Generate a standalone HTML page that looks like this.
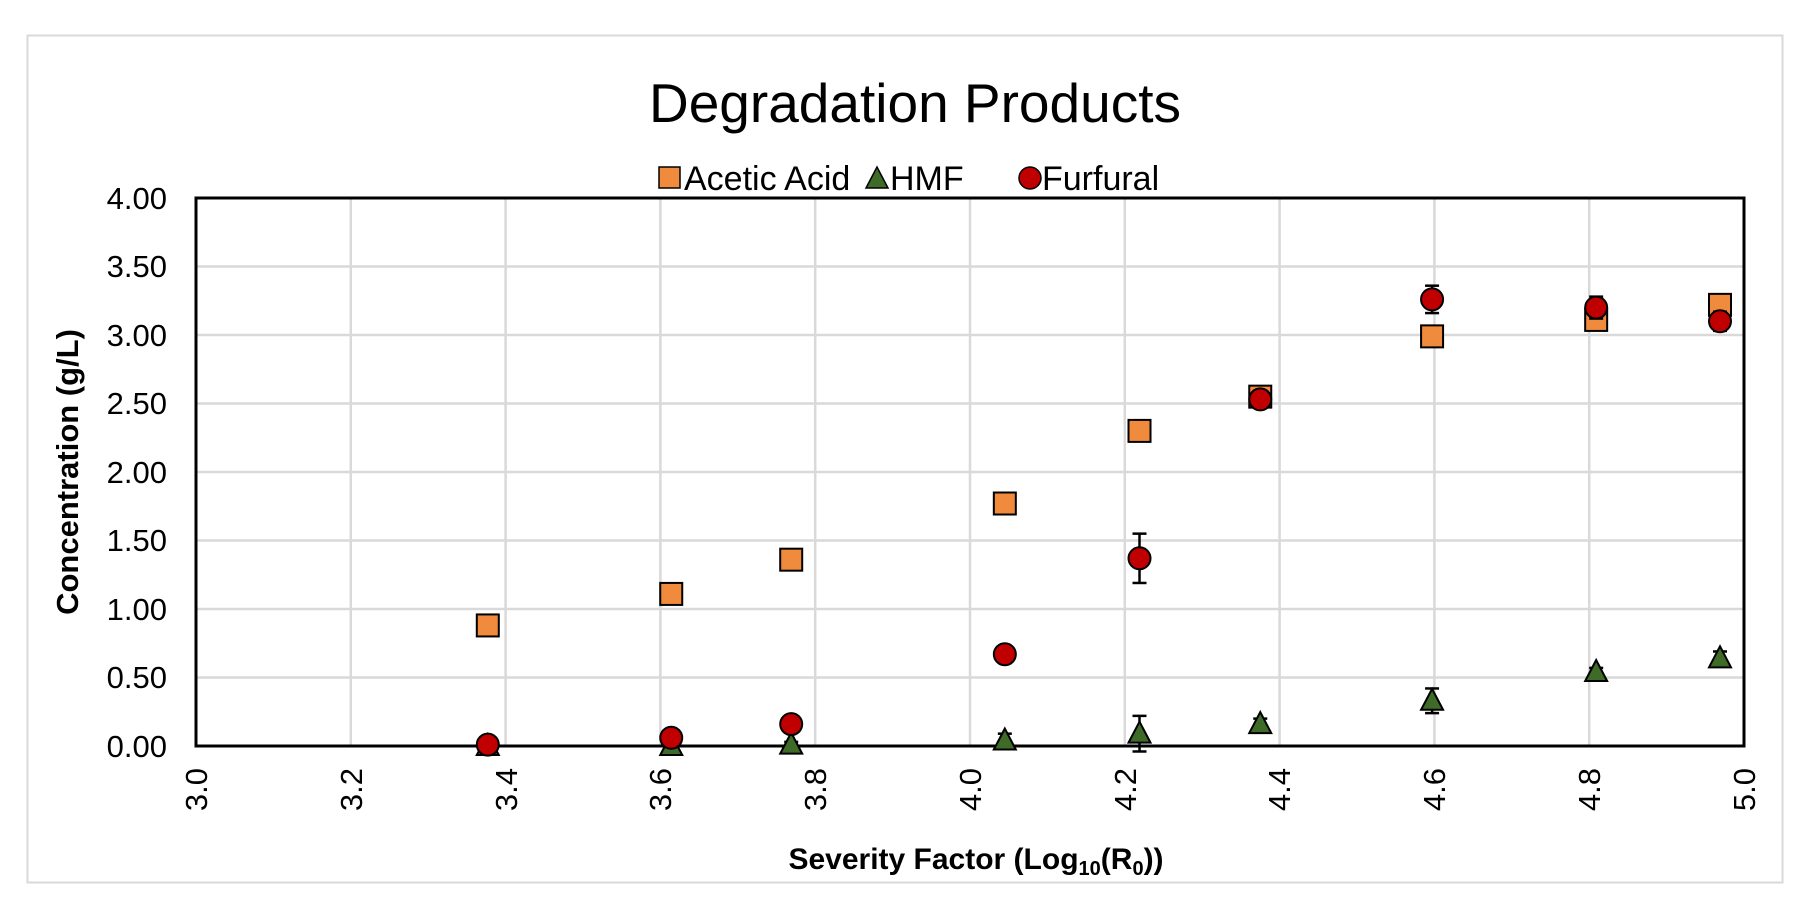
<!DOCTYPE html>
<html><head><meta charset="utf-8"><style>
html,body{margin:0;padding:0;background:#fff;}
svg{display:block;font-family:"Liberation Sans",Arial,sans-serif;}
</style></head><body>
<svg id="s" width="1805" height="902" viewBox="0 0 1805 902" xmlns="http://www.w3.org/2000/svg">
<rect x="0" y="0" width="1805" height="902" fill="#fff"/>
<rect x="27.5" y="35.5" width="1755" height="847" fill="#fff" stroke="#d9d9d9" stroke-width="2"/>
<g id="grid" stroke="#d9d9d9" stroke-width="2.5"></g>
<rect x="196" y="198" width="1548" height="548" fill="none" stroke="#000" stroke-width="3"/>
<text x="915" y="122" font-size="55" text-anchor="middle" fill="#000">Degradation Products</text>
<rect x="659" y="167" width="21" height="21" fill="#f08a3c" stroke="#000" stroke-width="1.5"/>
<text x="684" y="190" font-size="34">Acetic Acid</text>
<polygon points="877,167 866,188 888,188" fill="#3f6b28" stroke="#000" stroke-width="1.5"/>
<text x="890" y="190" font-size="34">HMF</text>
<circle cx="1030" cy="178" r="11" fill="#c00000" stroke="#000" stroke-width="1.5"/>
<text x="1042" y="190" font-size="34">Furfural</text>
<g font-size="31" text-anchor="end">
<text x="167" y="209">4.00</text><text x="167" y="277">3.50</text><text x="167" y="346">3.00</text>
<text x="167" y="414">2.50</text><text x="167" y="483">2.00</text><text x="167" y="551">1.50</text>
<text x="167" y="620">1.00</text><text x="167" y="688">0.50</text><text x="167" y="757">0.00</text>
</g>
<g font-size="31" text-anchor="end">
<text transform="translate(207,768) rotate(-90)">3.0</text>
<text transform="translate(362,768) rotate(-90)">3.2</text>
<text transform="translate(517,768) rotate(-90)">3.4</text>
<text transform="translate(671,768) rotate(-90)">3.6</text>
<text transform="translate(826,768) rotate(-90)">3.8</text>
<text transform="translate(981,768) rotate(-90)">4.0</text>
<text transform="translate(1136,768) rotate(-90)">4.2</text>
<text transform="translate(1290,768) rotate(-90)">4.4</text>
<text transform="translate(1445,768) rotate(-90)">4.6</text>
<text transform="translate(1600,768) rotate(-90)">4.8</text>
<text transform="translate(1755,768) rotate(-90)">5.0</text>
</g>
<text transform="translate(78,472) rotate(-90)" font-size="31" font-weight="bold" text-anchor="middle">Concentration (g/L)</text>
<text x="976" y="869" font-size="30" font-weight="bold" text-anchor="middle">Severity Factor (Log<tspan font-size="20" dy="6">10</tspan><tspan dy="-6">(R</tspan><tspan font-size="20" dy="6">0</tspan><tspan dy="-6">))</tspan></text>
<g id="data"></g>
</svg>
<script>
var NS="http://www.w3.org/2000/svg";
function X(v){return 196+(v-3)*774;}
function Y(v){return 746-v*137;}
function el(n,a,p){var e=document.createElementNS(NS,n);for(var k in a)e.setAttribute(k,a[k]);p.appendChild(e);return e;}
var g=document.getElementById("grid");
for(var i=1;i<10;i++){var x=X(3+i*0.2);el("line",{x1:x,x2:x,y1:198,y2:746},g);}
for(var j=1;j<8;j++){var y=Y(j*0.5);el("line",{x1:196,x2:1744,y1:y,y2:y},g);}
var xs=[3.377,3.614,3.769,4.045,4.219,4.375,4.597,4.809,4.969];
var ac=[0.88,1.11,1.36,1.77,2.30,2.55,2.99,3.11,3.22];
var fu=[0.01,0.06,0.16,0.67,1.37,2.53,3.26,3.20,3.10];
var fe=[0.03,0.02,0.02,0.05,0.18,0.03,0.10,0.08,0.07];
var hm=[0.0,0.0,0.01,0.04,0.09,0.16,0.33,0.54,0.64];
var he=[0.03,0.02,0.02,0.05,0.13,0.04,0.09,0.03,0.05];
var d=document.getElementById("data");
function err(x,v,e){var y1=Y(v+e),y2=Y(v-e);
 el("line",{x1:x,x2:x,y1:y1,y2:y2,stroke:"#000","stroke-width":2.5},d);
 el("line",{x1:x-7,x2:x+7,y1:y1,y2:y1,stroke:"#000","stroke-width":2.5},d);
 el("line",{x1:x-7,x2:x+7,y1:y2,y2:y2,stroke:"#000","stroke-width":2.5},d);}
for(var k=0;k<9;k++){var x=X(xs[k]);
 el("rect",{x:x-11,y:Y(ac[k])-11,width:22,height:22,fill:"#f08a3c",stroke:"#000","stroke-width":2},d);}
for(var k=0;k<9;k++){var x=X(xs[k]),y=Y(hm[k]);err(x,hm[k],he[k]);
 el("polygon",{points:(x)+","+(y-12)+" "+(x-11)+","+(y+9)+" "+(x+11)+","+(y+9),fill:"#3f6b28",stroke:"#000","stroke-width":2},d);}
for(var k=0;k<9;k++){var x=X(xs[k]);err(x,fu[k],fe[k]);
 el("circle",{cx:x,cy:Y(fu[k]),r:11,fill:"#c00000",stroke:"#000","stroke-width":2},d);}
</script>
</body></html>
